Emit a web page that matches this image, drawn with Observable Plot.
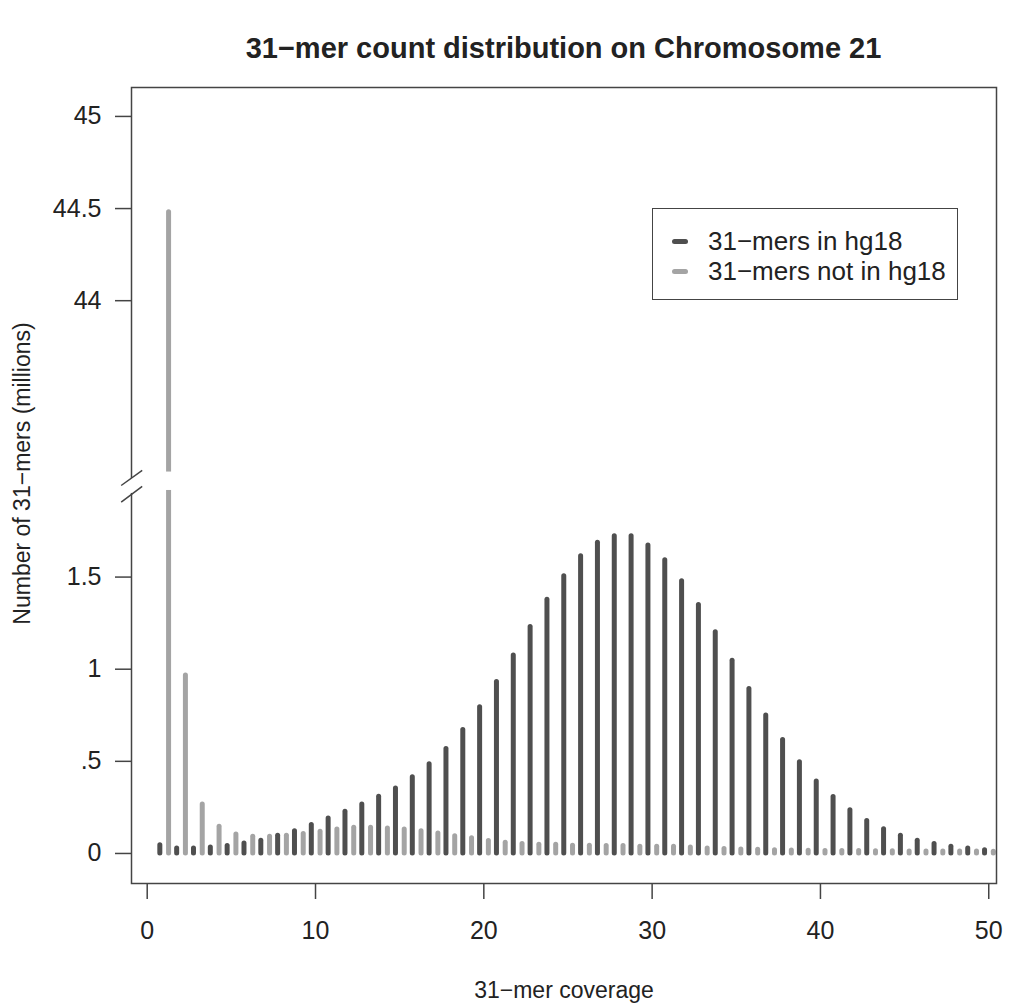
<!DOCTYPE html>
<html><head><meta charset="utf-8">
<script src="https://cdn.jsdelivr.net/npm/d3@7"></script>
<script src="https://cdn.jsdelivr.net/npm/@observablehq/plot@0.6"></script>
<style>
body{margin:0;background:#fff;font-family:"Liberation Sans",Arial,sans-serif;}
#wrap{position:relative;width:1019px;height:1008px;overflow:hidden;}
#title{position:absolute;left:131px;width:865px;top:30px;text-align:center;font-weight:bold;font-size:29px;line-height:36px;color:#222;}
#chart{position:absolute;left:0;top:80px;}
#legend{position:absolute;left:652px;top:208px;width:306px;height:92px;border:1.5px solid #444;box-sizing:border-box;background:#fff;}
.row{position:absolute;left:19px;height:30px;display:flex;align-items:center;font-size:26px;color:#222;white-space:nowrap;}
.sw{width:16px;height:5px;border-radius:3px;margin-right:20px;}
</style></head>
<body><div id="wrap"><div id="title"></div><div id="chart"></div><div id="legend"></div></div>
<script>
// ---- data (millions of 31-mers) ----
const titleText = "31−mer count distribution on Chromosome 21";
const xLabel = "31−mer coverage";
const yLabel = "Number of 31−mers (millions)";
const seriesNames = ["31−mers in hg18", "31−mers not in hg18"];
const coverage = [1,2,3,4,5,6,7,8,9,10,11,12,13,14,15,16,17,18,19,20,21,22,23,24,25,26,27,28,29,30,31,32,33,34,35,36,37,38,39,40,41,42,43,44,45,46,47,48,49,50];
const inHg18 = [0.045,0.027,0.027,0.033,0.040,0.054,0.069,0.096,0.121,0.154,
  0.190,0.227,0.266,0.308,0.353,0.413,0.484,0.567,0.670,0.794,
  0.930,1.075,1.229,1.377,1.505,1.613,1.686,1.722,1.722,1.671,
  1.592,1.477,1.349,1.201,1.046,0.892,0.749,0.616,0.495,0.390,
  0.306,0.235,0.176,0.132,0.096,0.069,0.051,0.036,0.027,0.018];
const notInHg18 = [44.48,0.966,0.266,0.145,0.103,0.091,0.091,0.096,0.105,0.118,
  0.130,0.140,0.140,0.136,0.130,0.121,0.109,0.094,0.082,0.067,
  0.058,0.051,0.047,0.047,0.042,0.042,0.040,0.040,0.036,0.036,
  0.036,0.033,0.027,0.024,0.021,0.020,0.018,0.016,0.015,0.014,
  0.014,0.013,0.012,0.012,0.011,0.011,0.010,0.010,0.010,0.009];
const xTicks = [0,10,20,30,40,50];
const yTickValues = [0,0.5,1,1.5,44,44.5,45];
const yTickLabels = ["0",".5","1","1.5","44","44.5","45"];
const gapLow = 2.0, gapHigh = 43.0, gapShift = 41; // broken axis

// ---- styling ----
const darkColor = "#4f4f4f", lightColor = "#a4a4a4", axisColor = "#444";
const darkOffset = -0.25, lightOffset = 0.27;
const disp = v => v > gapLow ? v - gapShift : v;

document.getElementById("title").textContent = titleText;

const rowsIn = coverage.map((k,i)=>({k, v: inHg18[i]}));
const rowsNot = coverage.map((k,i)=>({k, v: notInHg18[i]}));
const brokenBars = rowsNot.filter(d => d.v > gapLow);

const xDomain = [-0.933, 50.46];
const yDomain = [-0.163, 4.157];
const bLo = 1.97, bHi = 2.07;     // white gap on bars (display units)
const fLo = 1.954, fHi = 2.035;   // white gap on left frame
const slashes = [
  {x1: xDomain[0]-0.612, y1: 1.997, x2: xDomain[0]+0.636, y2: 2.079},
  {x1: xDomain[0]-0.612, y1: 1.907, x2: xDomain[0]+0.636, y2: 1.992}
];

const plot = Plot.plot({
  width: 1019, height: 928,
  marginLeft: 131, marginRight: 23, marginTop: 7, marginBottom: 125,
  x: {domain: xDomain},
  y: {domain: yDomain},
  style: {fontFamily: "'Liberation Sans', Arial, sans-serif", fontSize: "25px", color: "#222", background: "#fff", overflow: "visible"},
  marks: [
    Plot.ruleX(rowsIn, {x: d => d.k + darkOffset, y1: 0, y2: d => disp(d.v), stroke: darkColor, strokeWidth: 5, strokeLinecap: "round"}),
    Plot.ruleX(rowsNot, {x: d => d.k + lightOffset, y1: 0, y2: d => disp(d.v), stroke: lightColor, strokeWidth: 5, strokeLinecap: "round"}),
    Plot.rect(brokenBars, {x1: d => d.k + lightOffset - 0.35, x2: d => d.k + lightOffset + 0.35, y1: bLo, y2: bHi, fill: "white"}),
    Plot.frame({stroke: axisColor, strokeWidth: 1.5}),
    Plot.rect([0], {x1: xDomain[0]-0.2, x2: xDomain[0]+0.2, y1: fLo, y2: fHi, fill: "white"}),
    Plot.link(slashes, {x1: "x1", y1: "y1", x2: "x2", y2: "y2", stroke: axisColor, strokeWidth: 1.5}),
    Plot.axisX({ticks: xTicks, tickSize: 16, tickPadding: 22, stroke: axisColor, strokeWidth: 1.5, fontSize: 25, label: null, tickFormat: d => String(d)}),
    Plot.axisY({ticks: yTickValues.map(disp), tickSize: 16, tickPadding: 14, stroke: axisColor, strokeWidth: 1.5, fontSize: 25, label: null,
      tickFormat: d => yTickLabels[yTickValues.map(disp).findIndex(t => Math.abs(t - d) < 1e-9)]}),
    Plot.text([xLabel], {frameAnchor: "bottom", dy: 107, text: d => d, textAnchor: "middle", lineAnchor: "middle", fontSize: 23, fill: "#222"}),
    Plot.text([yLabel], {frameAnchor: "left", dx: -109, dy: -12, rotate: -90, text: d => d, textAnchor: "middle", lineAnchor: "middle", fontSize: 23, fill: "#222"})
  ]
});
document.getElementById("chart").appendChild(plot);

// legend
const leg = document.getElementById("legend");
[darkColor, lightColor].forEach((c, i) => {
  const r = document.createElement("div");
  r.className = "row";
  r.style.top = (17 + i*30) + "px";
  const sw = document.createElement("span");
  sw.className = "sw"; sw.style.background = c;
  const t = document.createElement("span");
  t.textContent = seriesNames[i];
  r.appendChild(sw); r.appendChild(t);
  leg.appendChild(r);
});
</script>
</body></html>
